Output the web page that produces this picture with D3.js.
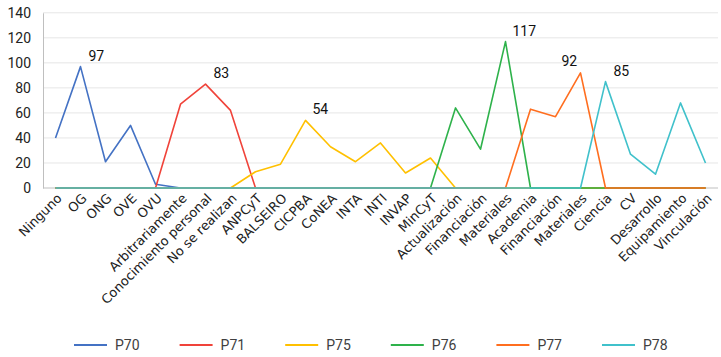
<!DOCTYPE html>
<html><head><meta charset="utf-8">
<script src="https://cdn.jsdelivr.net/npm/d3@7"></script>
<style>body{margin:0;background:#fff}svg{display:block}</style>
</head><body>
<svg id="c" width="721" height="357"></svg>
<script>
const categories = ["Ninguno","OG","ONG","OVE","OVU","Arbitrariamente","Conocimiento personal","No se realizan","ANPCyT","BALSEIRO","CICPBA","CoNEA","INTA","INTI","INVAP","MinCyT","Actualización","Financiación","Materiales","Academia","Financiación","Materiales","Ciencia","CV","Desarrollo","Equipamiento","Vinculación"];
const seriesNames = ["P70","P71","P75","P76","P77","P78"];
const seriesColors = ["#4472C4","#F0433A","#FFC000","#2EB24B","#FF6E1F","#40C1CB"];
const P70 = [40,97,21,50,3,0,0,0,0,0,0,0,0,0,0,0,0,0,0,0,0,0,0,0,0,0,0];
const P71 = [0,0,0,0,0,67,83,62,0,0,0,0,0,0,0,0,0,0,0,0,0,0,0,0,0,0,0];
const P75 = [0,0,0,0,0,0,0,0,13,19,54,33,21,36,12,24,0,0,0,0,0,0,0,0,0,0,0];
const P76 = [0,0,0,0,0,0,0,0,0,0,0,0,0,0,0,0,64,31,117,0,0,0,0,0,0,0,0];
const P77 = [0,0,0,0,0,0,0,0,0,0,0,0,0,0,0,0,0,0,0,63,57,92,0,0,0,0,0];
const P78 = [0,0,0,0,0,0,0,0,0,0,0,0,0,0,0,0,0,0,0,0,0,0,85,27,11,68,20];
const seriesValues = [P70,P71,P75,P76,P77,P78];
const peakLabels = [97,83,54,117,92,85];
const yTicks = [0,20,40,60,80,100,120,140];

const svg = d3.select("#c");
const m = {l:43, r:3, t:13, b:169};
const W = 721, H = 357;
const x = d3.scaleBand().domain(categories.map((c,i)=>i)).range([m.l, W-m.r]);
const y = d3.scaleLinear().domain([0,140]).range([188, 12.8]);
const cx = i => x(i) + x.bandwidth()/2;

// gridlines
svg.append("g").selectAll("line").data(yTicks.filter(d=>d>0)).join("line")
  .attr("x1", m.l).attr("x2", W-m.r).attr("y1", d=>y(d)).attr("y2", d=>y(d))
  .attr("stroke", "#e6e6e6").attr("stroke-width", 1);

// y axis
const ya = svg.append("g").attr("transform", `translate(${m.l},0)`)
  .call(d3.axisLeft(y).tickValues(yTicks).tickSize(0).tickPadding(12));
ya.select(".domain").attr("stroke", "#bfbfbf");
ya.selectAll("text").attr("font-family","Roboto, sans-serif").attr("font-size","14px").attr("fill","#222");

// x baseline
svg.append("line").attr("x1", m.l).attr("x2", W-m.r).attr("y1", y(0)).attr("y2", y(0))
  .attr("stroke", "#bfbfbf");

// x labels
const xa = svg.append("g").attr("transform", `translate(0,${y(0)})`)
  .call(d3.axisBottom(x).tickSize(0).tickFormat(i=>categories[i]));
xa.select(".domain").remove();
xa.selectAll("text")
  .attr("font-family","DejaVu Sans, sans-serif").attr("font-size","13px").attr("fill","#222")
  .attr("text-anchor","end").attr("dy","0")
  .attr("transform","translate(5,9) rotate(-45)");

// lines
const line = d3.line().x((d,i)=>cx(i)).y(d=>y(d));
seriesValues.forEach((vals, k) => {
  svg.append("path").datum(vals).attr("d", line)
    .attr("fill","none").attr("stroke", seriesColors[k]).attr("stroke-width", 1.6)
    .attr("stroke-linejoin","round");
});

// peak labels
const labelOffsets = [[8,-6],[8,-6],[7,-6],[7,-6],[-19,-7],[8,-6]];
seriesValues.forEach((vals, k) => {
  const v = peakLabels[k];
  const i = vals.indexOf(v);
  svg.append("text").attr("x", cx(i)+labelOffsets[k][0]).attr("y", y(v)+labelOffsets[k][1])
    .attr("font-family","Roboto, sans-serif").attr("font-size","14px").attr("fill","#111")
    .text(v);
});

// legend
const lg = svg.append("g");
seriesNames.forEach((n,k) => {
  const lx = 74 + k*105.6;
  lg.append("line").attr("x1", lx).attr("x2", lx+33).attr("y1", 345).attr("y2", 345)
    .attr("stroke", seriesColors[k]).attr("stroke-width", 2);
  lg.append("text").attr("x", lx+41).attr("y", 350)
    .attr("font-family","Roboto, sans-serif").attr("font-size","14px").attr("fill","#404040").text(n);
});
</script>
</body></html>
